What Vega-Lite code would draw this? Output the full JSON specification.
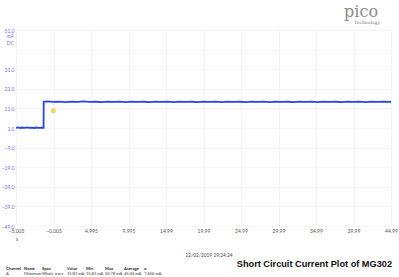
{
  "$schema": "https://vega.github.io/schema/vega-lite/v6.json",
  "width": 375,
  "height": 196,
  "autosize": "none",
  "padding": {"left": 16, "top": 30, "right": 8, "bottom": 51},
  "background": "white",
  "config": {"view": {"stroke": null}},
  "datasets": {
    "trace": [
      {"t": -5.005, "v": 1.1}, {"t": -4.7, "v": 1.3}, {"t": -4.4, "v": 1.0}, {"t": -4.1, "v": 1.25},
      {"t": -3.8, "v": 1.05}, {"t": -3.5, "v": 1.3}, {"t": -3.2, "v": 1.1}, {"t": -2.9, "v": 1.2},
      {"t": -2.6, "v": 1.0}, {"t": -2.3, "v": 1.25}, {"t": -2.0, "v": 1.1}, {"t": -1.7, "v": 1.2},
      {"t": -1.33, "v": 1.15}, {"t": -1.31, "v": 14.4},
      {"t": -0.8, "v": 14.6}, {"t": 0.0, "v": 14.3}, {"t": 0.8, "v": 14.5}, {"t": 1.6, "v": 14.2},
      {"t": 2.4, "v": 14.5}, {"t": 3.2, "v": 14.3}, {"t": 4.0, "v": 14.6}, {"t": 4.8, "v": 14.3},
      {"t": 5.6, "v": 14.4}, {"t": 6.4, "v": 14.2}, {"t": 7.2, "v": 14.5}, {"t": 8.0, "v": 14.3},
      {"t": 8.8, "v": 14.45}, {"t": 9.6, "v": 14.25}, {"t": 10.4, "v": 14.5}, {"t": 11.2, "v": 14.3},
      {"t": 12.0, "v": 14.4}, {"t": 12.8, "v": 14.2}, {"t": 13.6, "v": 14.5}, {"t": 14.4, "v": 14.3},
      {"t": 15.2, "v": 14.45}, {"t": 16.0, "v": 14.25}, {"t": 16.8, "v": 14.5}, {"t": 17.6, "v": 14.3},
      {"t": 18.4, "v": 14.4}, {"t": 19.2, "v": 14.2}, {"t": 20.0, "v": 14.5}, {"t": 20.8, "v": 14.3},
      {"t": 21.6, "v": 14.45}, {"t": 22.4, "v": 14.25}, {"t": 23.2, "v": 14.5}, {"t": 24.0, "v": 14.3},
      {"t": 24.8, "v": 14.4}, {"t": 25.6, "v": 14.2}, {"t": 26.4, "v": 14.5}, {"t": 27.2, "v": 14.3},
      {"t": 28.0, "v": 14.45}, {"t": 28.8, "v": 14.25}, {"t": 29.6, "v": 14.5}, {"t": 30.4, "v": 14.3},
      {"t": 31.2, "v": 14.4}, {"t": 32.0, "v": 14.2}, {"t": 32.8, "v": 14.5}, {"t": 33.6, "v": 14.3},
      {"t": 34.4, "v": 14.45}, {"t": 35.2, "v": 14.25}, {"t": 36.0, "v": 14.5}, {"t": 36.8, "v": 14.3},
      {"t": 37.6, "v": 14.4}, {"t": 38.4, "v": 14.2}, {"t": 39.2, "v": 14.5}, {"t": 40.0, "v": 14.3},
      {"t": 40.8, "v": 14.45}, {"t": 41.6, "v": 14.25}, {"t": 42.4, "v": 14.5}, {"t": 43.2, "v": 14.3},
      {"t": 44.0, "v": 14.4}, {"t": 44.995, "v": 14.3}
    ],
    "marker": [{"t": -0.03, "v": 9.8}],
    "units": [
      {"t": -5.005, "v": 47.9, "label": "mA"},
      {"t": -5.005, "v": 44.4, "label": "DC"}
    ],
    "xunit": [{"t": -4.87, "v": -55.6, "label": "s"}],
    "date": [{"t": 20.73, "v": -64.3, "label": "12/02/2019 19:24:24"}],
    "header": [
      {"t": -6.34, "v": -70.7, "label": "Channel"},
      {"t": -3.94, "v": -70.7, "label": "Name"},
      {"t": -1.54, "v": -70.7, "label": "Span"},
      {"t": 1.795, "v": -70.7, "label": "Value"},
      {"t": 4.33, "v": -70.7, "label": "Min"},
      {"t": 6.86, "v": -70.7, "label": "Max"},
      {"t": 9.395, "v": -70.7, "label": "Average"},
      {"t": 12.06, "v": -70.7, "label": "σ"}
    ],
    "row": [
      {"t": -6.34, "v": -73.3, "label": "A"},
      {"t": -3.94, "v": -73.3, "label": "Maximum"},
      {"t": -1.54, "v": -73.3, "label": "Whole trace"},
      {"t": 1.795, "v": -73.3, "label": "15.83 mA"},
      {"t": 4.33, "v": -73.3, "label": "15.83 mA"},
      {"t": 6.86, "v": -73.3, "label": "50.78 mA"},
      {"t": 9.395, "v": -73.3, "label": "45.06 mA"},
      {"t": 12.06, "v": -73.3, "label": "7.446 mA"}
    ],
    "title": [{"t": 45.13, "v": -68.5, "label": "Short Circuit Current Plot of MG302"}],
    "logo": [{"t": 41.0, "v": 57.6, "label": "pico"}],
    "logosub": [{"t": 41.8, "v": 54.6, "label": "Technology"}]
  },
  "layer": [
    {
      "data": {"name": "trace"},
      "mark": {"type": "line", "color": "#2a46e0", "strokeWidth": 1.8, "interpolate": "linear"},
      "encoding": {
        "x": {
          "field": "t", "type": "quantitative",
          "scale": {"domain": [-5.005, 44.995], "nice": false, "zero": false},
          "axis": {
            "title": null,
            "values": [-5.005, -0.005, 4.995, 9.995, 14.995, 19.995, 24.995, 29.995, 34.995, 39.995, 44.995],
            "tickCount": 50,
            "labelExpr": "abs(datum.value) < 10 ? format(datum.value, '.3f') : format(datum.value - 0.005, '.2f')",
            "labelFontSize": 5, "labelColor": "#555555", "labelFont": "Lato",
            "labelPadding": 2, "tickSize": 0, "domain": false,
            "grid": true, "gridColor": "#ececec", "gridWidth": 0.6,
            "labelOverlap": false, "labelFlush": false
          }
        },
        "y": {
          "field": "v", "type": "quantitative",
          "scale": {"domain": [-49, 51], "nice": false, "zero": false},
          "axis": {
            "title": null,
            "values": [-49, -39, -29, -19, -9, 1, 11, 21, 31, 41, 51],
            "tickCount": 50,
            "labelExpr": "datum.value == 41 ? '' : format(datum.value, '.1f')",
            "labelFontSize": 5, "labelColor": "#7070f0", "labelFont": "Lato",
            "labelPadding": 2, "tickSize": 0, "domain": false,
            "grid": true, "gridColor": "#ececec", "gridWidth": 0.6,
            "labelOverlap": false, "labelFlush": false
          }
        }
      }
    },
    {
      "data": {"name": "marker"},
      "mark": {"type": "point", "filled": true, "color": "#f3e24a", "stroke": "#d9b030", "strokeWidth": 0.6, "size": 18, "opacity": 1},
      "encoding": {"x": {"field": "t", "type": "quantitative"}, "y": {"field": "v", "type": "quantitative"}}
    },
    {
      "data": {"name": "units"},
      "mark": {"type": "text", "align": "right", "baseline": "middle", "dx": -2, "fontSize": 5, "font": "Lato", "color": "#7070f0"},
      "encoding": {"x": {"field": "t", "type": "quantitative"}, "y": {"field": "v", "type": "quantitative"}, "text": {"field": "label"}}
    },
    {
      "data": {"name": "xunit"},
      "mark": {"type": "text", "align": "center", "baseline": "middle", "fontSize": 5, "font": "Lato", "color": "#555555"},
      "encoding": {"x": {"field": "t", "type": "quantitative"}, "y": {"field": "v", "type": "quantitative"}, "text": {"field": "label"}}
    },
    {
      "data": {"name": "date"},
      "mark": {"type": "text", "align": "center", "baseline": "middle", "fontSize": 4.8, "font": "Lato", "color": "#444444"},
      "encoding": {"x": {"field": "t", "type": "quantitative"}, "y": {"field": "v", "type": "quantitative"}, "text": {"field": "label"}}
    },
    {
      "data": {"name": "header"},
      "mark": {"type": "text", "align": "left", "baseline": "middle", "fontSize": 4.1, "font": "Lato", "fontWeight": "bold", "color": "#222222"},
      "encoding": {"x": {"field": "t", "type": "quantitative"}, "y": {"field": "v", "type": "quantitative"}, "text": {"field": "label"}}
    },
    {
      "data": {"name": "row"},
      "mark": {"type": "text", "align": "left", "baseline": "middle", "fontSize": 4, "font": "Lato", "color": "#333333"},
      "encoding": {"x": {"field": "t", "type": "quantitative"}, "y": {"field": "v", "type": "quantitative"}, "text": {"field": "label"}}
    },
    {
      "data": {"name": "title"},
      "mark": {"type": "text", "align": "right", "baseline": "middle", "fontSize": 9.2, "font": "Liberation Sans", "fontWeight": "bold", "color": "#111111"},
      "encoding": {"x": {"field": "t", "type": "quantitative"}, "y": {"field": "v", "type": "quantitative"}, "text": {"field": "label"}}
    },
    {
      "data": {"name": "logo"},
      "mark": {"type": "text", "align": "center", "baseline": "alphabetic", "fontSize": 16, "font": "DejaVu Serif", "color": "#8a8a8a"},
      "encoding": {"x": {"field": "t", "type": "quantitative"}, "y": {"field": "v", "type": "quantitative"}, "text": {"field": "label"}}
    },
    {
      "data": {"name": "logosub"},
      "mark": {"type": "text", "align": "center", "baseline": "middle", "fontSize": 4.5, "font": "DejaVu Serif", "color": "#777777"},
      "encoding": {"x": {"field": "t", "type": "quantitative"}, "y": {"field": "v", "type": "quantitative"}, "text": {"field": "label"}}
    }
  ]
}
